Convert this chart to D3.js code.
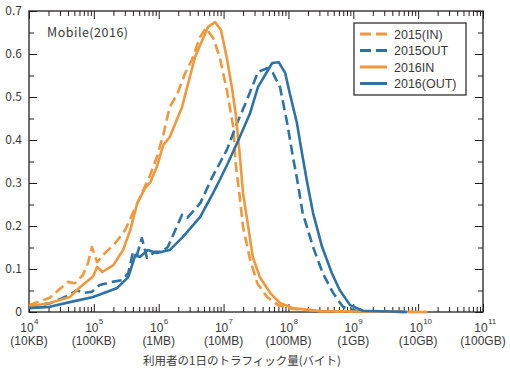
<!DOCTYPE html>
<html>
<head>
  <meta charset="utf-8">
  <title>Mobile traffic distribution 2016</title>
  <script src="https://d3js.org/d3.v7.min.js"></script>
  <style>
    body { margin: 0; background: #fff; }
    text { font-family: "Noto Sans CJK JP", "Noto Sans", sans-serif; fill: #3a3a3a; }
    .xl { font-family: "Liberation Sans", Arial, sans-serif; }
  </style>
</head>
<body>
<svg width="510" height="374"></svg>
<script>
  // x = log10(bytes per user per day), y = share of users
  const in2015 = [[4.00,0.016],[4.32,0.033],[4.60,0.070],[4.71,0.067],[4.83,0.086],[4.91,0.114],[4.97,0.151],[5.05,0.116],
    [5.17,0.137],[5.33,0.160],[5.48,0.190],[5.67,0.253],[5.79,0.293],[5.87,0.319],[5.97,0.360],[6.07,0.412],[6.17,0.477],
    [6.28,0.505],[6.41,0.556],[6.51,0.586],[6.64,0.640],[6.73,0.660],[6.84,0.637],[6.94,0.593],[7.05,0.516],[7.15,0.430],
    [7.19,0.340],[7.24,0.280],[7.30,0.198],[7.41,0.121],[7.52,0.067],[7.67,0.035],[7.84,0.016],[8.07,0.007],[8.5,0.002],
    [9.0,0.001],[10.14,0.0]];
  const out2015 = [[4.00,0.012],[4.32,0.020],[4.63,0.040],[4.74,0.051],[4.83,0.044],[4.97,0.047],[5.09,0.063],[5.28,0.070],
    [5.43,0.074],[5.53,0.090],[5.60,0.137],[5.66,0.130],[5.74,0.172],[5.82,0.126],[5.94,0.140],[6.05,0.140],[6.14,0.151],
    [6.36,0.226],[6.44,0.219],[6.64,0.253],[6.82,0.312],[7.05,0.377],[7.21,0.440],[7.36,0.493],[7.53,0.558],[7.67,0.567],
    [7.76,0.556],[7.87,0.523],[7.98,0.440],[8.07,0.360],[8.13,0.312],[8.22,0.230],[8.38,0.151],[8.53,0.090],[8.69,0.044],
    [8.84,0.012],[9.06,0.002],[9.83,0.0]];
  const in2016 = [[4.00,0.013],[4.32,0.021],[4.63,0.035],[4.79,0.058],[4.99,0.083],[5.05,0.105],[5.13,0.093],[5.30,0.109],
    [5.45,0.144],[5.56,0.190],[5.67,0.253],[5.79,0.288],[5.87,0.302],[5.97,0.337],[6.07,0.388],[6.17,0.407],[6.36,0.477],
    [6.56,0.593],[6.76,0.663],[6.87,0.674],[6.96,0.656],[7.05,0.591],[7.13,0.521],[7.19,0.458],[7.25,0.365],[7.30,0.277],
    [7.38,0.198],[7.45,0.128],[7.56,0.081],[7.72,0.044],[7.87,0.021],[8.07,0.009],[8.49,0.002],[9.0,0.001],[10.14,0.0]];
  const out2016 = [[4.00,0.009],[4.32,0.012],[4.63,0.023],[4.99,0.035],[5.36,0.056],[5.53,0.081],[5.64,0.133],[5.71,0.128],
    [5.83,0.144],[5.97,0.137],[6.17,0.144],[6.37,0.174],[6.64,0.221],[6.84,0.277],[6.94,0.307],[7.07,0.347],[7.25,0.407],
    [7.41,0.463],[7.53,0.523],[7.75,0.579],[7.85,0.581],[7.95,0.556],[8.02,0.509],[8.13,0.440],[8.22,0.360],[8.29,0.300],
    [8.38,0.230],[8.52,0.151],[8.67,0.090],[8.79,0.051],[8.95,0.016],[9.15,0.003],[9.83,0.0]];

  const seriesNames = ["2015(IN)", "2015OUT", "2016IN", "2016(OUT)"];
  const decades = [4, 5, 6, 7, 8, 9, 10, 11];
  const unitLabels = ["10KB", "100KB", "1MB", "10MB", "100MB", "1GB", "10GB", "100GB"];
  const yTicks = [0, 0.1, 0.2, 0.3, 0.4, 0.5, 0.6, 0.7];

  const orange = "#f0983e", blue = "#2f72a6", ink = "#231f20";
  const margin = {top: 11, right: 27, bottom: 62, left: 29};
  const W = 510, H = 374;
  const w = W - margin.left - margin.right, h = H - margin.top - margin.bottom;

  const svg = d3.select("svg");
  const g = svg.append("g").attr("transform", `translate(${margin.left},${margin.top})`);

  const x = d3.scaleLog().domain([1e4, 1e11]).range([0, w]);
  const y = d3.scaleLinear().domain([0, 0.7]).range([h, 0]);

  // minor log ticks (2..9 in each decade) and major decade ticks
  const minor = [];
  decades.slice(0, -1).forEach(d => { for (let k = 2; k <= 9; k++) minor.push(k * Math.pow(10, d)); });
  const major = decades.map(d => Math.pow(10, d));
  const yMinor = d3.range(0.05, 0.7, 0.1);

  function tickAxis(axis, values, size, tr) {
    const a = g.append("g").attr("transform", tr)
      .call(axis.tickValues(values).tickSize(size).tickFormat(""));
    a.select(".domain").remove();
    a.selectAll("line").attr("stroke", ink).attr("stroke-width", 1);
  }
  tickAxis(d3.axisBottom(x), minor, -5, `translate(0,${h})`);
  tickAxis(d3.axisBottom(x), major, -8, `translate(0,${h})`);
  tickAxis(d3.axisTop(x), minor, -5, "translate(0,0)");
  tickAxis(d3.axisTop(x), major, -8, "translate(0,0)");
  tickAxis(d3.axisLeft(y), yTicks, -8, "translate(0,0)");
  tickAxis(d3.axisLeft(y), yMinor, -5, "translate(0,0)");
  tickAxis(d3.axisRight(y), yTicks, -8, `translate(${w},0)`);
  tickAxis(d3.axisRight(y), yMinor, -5, `translate(${w},0)`);

  g.append("rect").attr("width", w).attr("height", h)
    .attr("fill", "none").attr("stroke", ink).attr("stroke-width", 1.3);

  // y labels
  g.selectAll(".ylab").data(yTicks).enter().append("text")
    .attr("x", -7).attr("y", d => y(d) + 4)
    .attr("text-anchor", "end").attr("font-size", 12)
    .text(d => d === 0 ? "0" : d.toFixed(1));

  // x labels: 10^n (exponent as its own small text) and unit below
  decades.forEach((d, i) => {
    const cx = x(Math.pow(10, d));
    g.append("text").attr("class", "xl").attr("x", cx - 2).attr("y", h + 19.5)
      .attr("text-anchor", "middle").attr("font-size", 12).text("10");
    g.append("text").attr("class", "xl").attr("x", cx + 5).attr("y", h + 11.5)
      .attr("font-size", 8).text(d);
    g.append("text").attr("class", "xl").attr("x", cx).attr("y", h + 32.5)
      .attr("text-anchor", "middle").attr("font-size", 12)
      .text("(" + unitLabels[i] + ")");
  });

  g.append("text").attr("x", 213).attr("y", h + 53)
    .attr("text-anchor", "middle").attr("font-size", 11.5)
    .text("利用者の1日のトラフィック量(バイト)");

  g.append("text").attr("x", 18).attr("y", 26).attr("font-size", 12.5)
    .attr("letter-spacing", 0.5).text("Mobile(2016)");

  const line = d3.line().x(d => x(Math.pow(10, d[0]))).y(d => y(d[1]));
  const series = [
    {data: in2015, color: orange, dash: "10,5"},
    {data: out2015, color: blue, dash: "10,5"},
    {data: in2016, color: orange, dash: null},
    {data: out2016, color: blue, dash: null}
  ];
  series.forEach(s => {
    g.append("path").datum(s.data).attr("d", line)
      .attr("fill", "none").attr("stroke", s.color).attr("stroke-width", 2.6)
      .attr("stroke-linejoin", "round")
      .attr("stroke-dasharray", s.dash);
  });

  // legend
  const lg = svg.append("g").attr("transform", "translate(354,23)");
  lg.append("rect").attr("width", 112).attr("height", 72)
    .attr("fill", "#fff").attr("stroke", ink).attr("stroke-width", 1.2);
  series.forEach((s, i) => {
    const yy = 11 + i * 16.5;
    lg.append("line").attr("x1", 6).attr("x2", 33).attr("y1", yy).attr("y2", yy)
      .attr("stroke", s.color).attr("stroke-width", 3).attr("stroke-dasharray", s.dash ? "11,5" : null);
    lg.append("text").attr("class", "xl").attr("x", 40).attr("y", yy + 4.5).attr("font-size", 12.5)
      .text(seriesNames[i]);
  });
</script>
</body>
</html>
